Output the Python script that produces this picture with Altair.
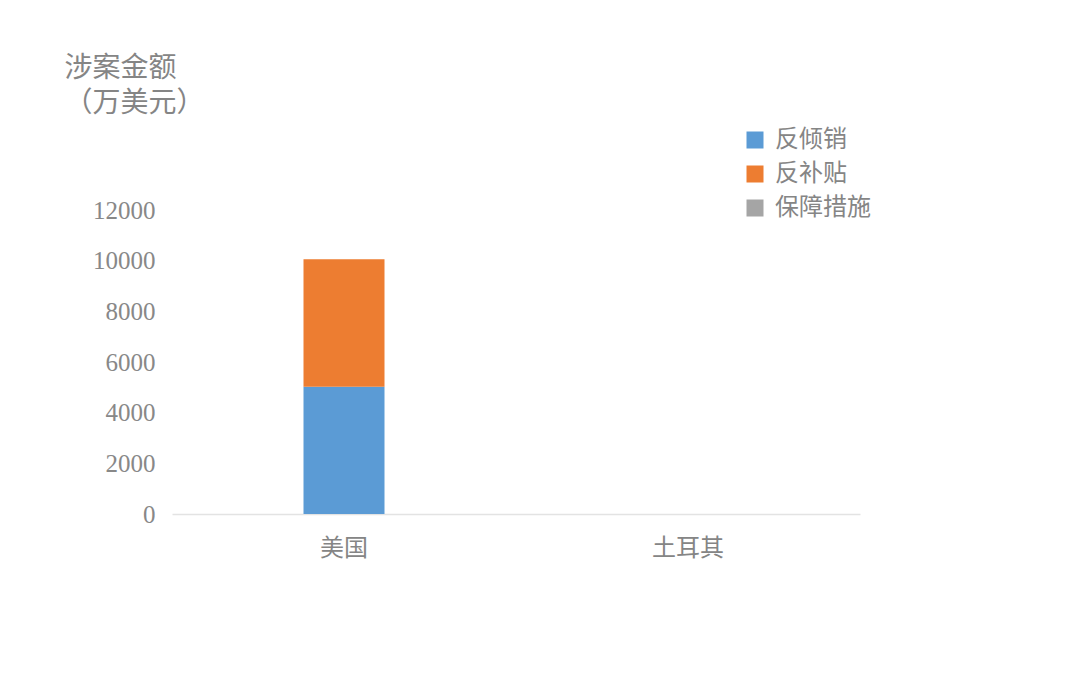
import altair as alt
import pandas as pd

countries = ["美国", "土耳其"]
types = ["反倾销", "反补贴", "保障措施"]
antidumping = [5020, 0]
countervailing = [5040, 0]
safeguard = [0, 0]
colors = ["#5b9bd5", "#ed7d31", "#a5a5a5"]
y_ticks = [0, 2000, 4000, 6000, 8000, 10000, 12000]

rows = []
for i, c in enumerate(countries):
    for j, (t, vals) in enumerate(zip(types, [antidumping, countervailing, safeguard])):
        rows.append({"国家": c, "类型": t, "金额": vals[i], "序": j})
df = pd.DataFrame(rows)

grey = "#858585"

chart = alt.Chart(df).mark_bar(width=81).encode(
    x=alt.X(
        "国家:N", sort=countries,
        scale=alt.Scale(paddingInner=0, paddingOuter=0),
        axis=alt.Axis(title=None, labelAngle=0, domainColor="#e3e3e3", domainWidth=1.5,
                      ticks=False, labelFont="Noto Sans CJK SC", labelFontSize=24,
                      labelColor=grey, labelPadding=22),
    ),
    y=alt.Y(
        "金额:Q", stack="zero",
        scale=alt.Scale(domain=[0, 12000], nice=False),
        axis=alt.Axis(values=y_ticks, format="d", grid=False, domain=False, ticks=False,
                      labelFont="Liberation Serif", labelFontSize=25, labelColor="#888888",
                      labelPadding=17,
                      title=["涉案金额", "（万美元）"], titleAngle=0, titleX=-108, titleY=-156,
                      titleAlign="left", titleBaseline="top", titleFont="Noto Sans CJK SC",
                      titleFontSize=28, titleFontWeight="normal", titleColor=grey,
                      titleLineHeight=35),
    ),
    color=alt.Color(
        "类型:N", sort=types,
        scale=alt.Scale(domain=types, range=colors),
        legend=alt.Legend(title=None, orient="none", legendX=571, legendY=-82,
                          symbolType="square", symbolSize=289, symbolStrokeWidth=0,
                          symbolOpacity=1,
                          labelFont="Noto Sans CJK SC", labelFontSize=24, labelColor=grey,
                          labelOffset=8, rowPadding=10),
    ),
    order=alt.Order("序:Q", sort="ascending"),
).properties(
    width=688, height=304,
    background="white",
    autosize=alt.AutoSizeParams(type="none"),
    padding={"left": 164, "top": 202, "right": 212, "bottom": 164},
).configure_view(stroke=None)

chart.save("out.html", embed_options={"renderer": "svg", "actions": False})
